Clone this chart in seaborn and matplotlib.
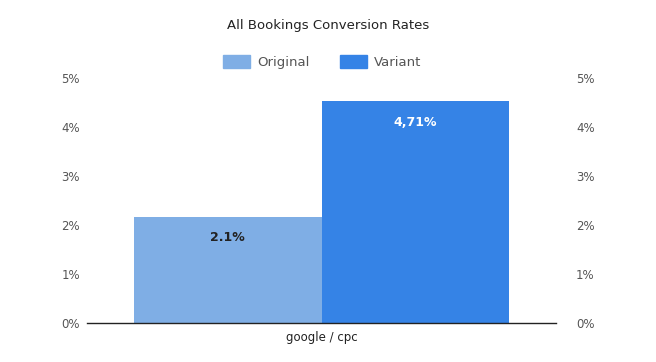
import matplotlib
matplotlib.use("Agg")
import matplotlib.pyplot as plt
import seaborn as sns
import pandas as pd

sns.set_theme(style="white")
plt.rcParams['font.family'] = ['DejaVu Sans']

# data
channels = ['google / cpc', 'google / cpc']
groups = ['Original', 'Variant']
rates = [2.17, 4.53]
rate_labels = ['2.1%', '4,71%']
yticks = [0, 1, 2, 3, 4, 5]
ytick_labels = ['0%', '1%', '2%', '3%', '4%', '5%']

colors = {'Original': '#7FAEE5', 'Variant': '#3583E6'}

df = pd.DataFrame({'Channel': channels, 'Group': groups, 'Rate': rates})

fig = plt.figure(figsize=(6.56, 3.62), dpi=100)
ax = fig.add_axes([0.1326, 0.1077, 0.715, 0.6768])

sns.barplot(data=df, x='Channel', y='Rate', hue='Group', palette=colors,
            width=0.8, saturation=1, linewidth=0, ax=ax, legend=False)

ax.set_xlim(-0.5, 0.5)
ax.set_ylim(0, 5)
ax.set_yticks(yticks)
ax.set_yticklabels(ytick_labels)
ax.set_xlabel('')
ax.set_ylabel('')

# right-hand copy of the percent axis
ax2 = ax.twinx()
ax2.set_ylim(0, 5)
ax2.set_yticks(yticks)
ax2.set_yticklabels(ytick_labels)
for a in (ax, ax2):
    for s in ['top', 'left', 'right']:
        a.spines[s].set_visible(False)
ax2.spines['bottom'].set_visible(False)
ax.spines['bottom'].set_color('#222222')
ax.spines['bottom'].set_linewidth(1)

ax.tick_params(axis='y', length=0, labelsize=8.5, labelcolor='#555555', pad=5)
ax2.tick_params(axis='y', length=0, labelsize=8.5, labelcolor='#555555', pad=14.5)
ax.tick_params(axis='x', length=0, labelsize=8.5, labelcolor='#222222', pad=6)

# value labels inside bar tops
text_colors = ['#222222', 'white']
for bar, lab, tc in zip(ax.patches, rate_labels, text_colors):
    x = bar.get_x() + bar.get_width() / 2
    y = bar.get_height()
    ax.annotate(lab, (x, y), xytext=(0, -21), textcoords='offset pixels',
                ha='center', va='center', fontsize=9, fontweight='bold', color=tc)

# legend above
handles = [plt.Rectangle((0, 0), 1, 1, color=colors[g]) for g in groups]
fig.legend(handles, groups, loc='center', bbox_to_anchor=(0.5 - 6 / 656, 1 - 62 / 362), ncol=2,
           frameon=False, fontsize=9.5, labelcolor='#555555',
           handlelength=2.1, handleheight=1.2, columnspacing=2.3, handletextpad=0.5)

fig.text(0.5, 1 - 26 / 362, 'All Bookings Conversion Rates', ha='center', va='center',
         fontsize=9.5, fontweight='medium', color='#222222')

fig.savefig('out.png', dpi=100)
